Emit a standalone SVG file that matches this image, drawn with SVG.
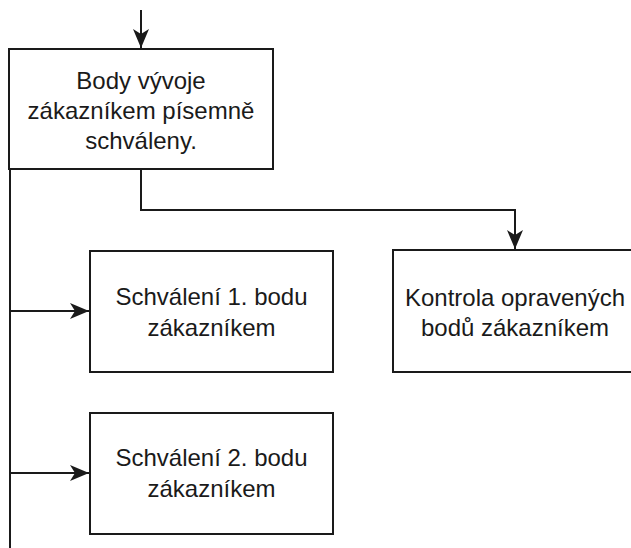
<svg xmlns="http://www.w3.org/2000/svg" width="631" height="548" viewBox="0 0 631 548">
  <style>
    .box { fill: #ffffff; stroke: #1a1a1a; stroke-width: 2; }
    .edge { fill: none; stroke: #1a1a1a; stroke-width: 2; }
    .lbl { font-family: "Liberation Sans", Arial, sans-serif; font-size: 24px; fill: #1a1a1a; text-anchor: middle; }
  </style>
  <defs>
    <marker id="arrow" viewBox="0 0 20 18" refX="19" refY="9" markerWidth="20" markerHeight="18" markerUnits="userSpaceOnUse" orient="auto">
      <path d="M19,9 L0,1 L5,9 L0,17 Z" fill="#1a1a1a" stroke="none"/>
    </marker>
  </defs>
  <rect width="631" height="548" fill="#ffffff"/>

  <g id="connectors">
    <path class="edge" d="M141,10 V48" marker-end="url(#arrow)"/>
    <path class="edge" d="M141,169 V210 H515 V249" marker-end="url(#arrow)"/>
    <path class="edge" d="M10,169 V548"/>
    <path class="edge" d="M10,311 H89" marker-end="url(#arrow)"/>
    <path class="edge" d="M10,473 H89" marker-end="url(#arrow)"/>
  </g>

  <g id="body-vyvoje">
    <rect class="box" x="9" y="49" width="264" height="120"/>
    <text class="lbl" x="141" y="89">Body vývoje</text>
    <text class="lbl" x="141" y="119">zákazníkem písemně</text>
    <text class="lbl" x="141" y="149">schváleny.</text>
  </g>

  <g id="schvaleni-1">
    <rect class="box" x="90" y="251" width="243" height="121"/>
    <text class="lbl" x="211.5" y="305">Schválení 1. bodu</text>
    <text class="lbl" x="211.5" y="336">zákazníkem</text>
  </g>

  <g id="kontrola">
    <rect class="box" x="393" y="250" width="246" height="122"/>
    <text class="lbl" x="515" y="306">Kontrola opravených</text>
    <text class="lbl" x="515" y="336">bodů zákazníkem</text>
  </g>

  <g id="schvaleni-2">
    <rect class="box" x="90" y="413" width="243" height="121"/>
    <text class="lbl" x="211.5" y="466">Schválení 2. bodu</text>
    <text class="lbl" x="211.5" y="497">zákazníkem</text>
  </g>
</svg>
